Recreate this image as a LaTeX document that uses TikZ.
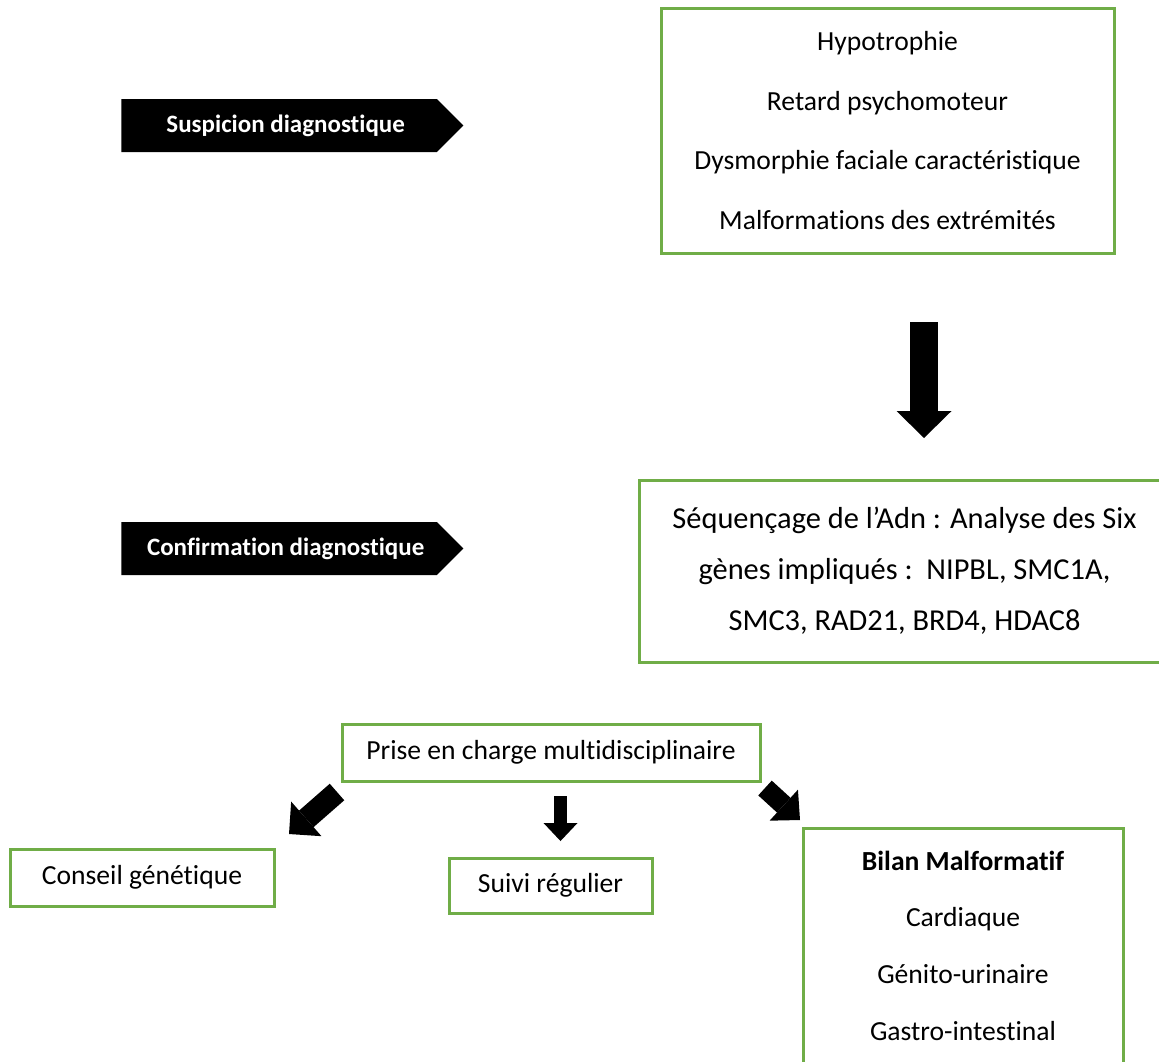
\documentclass[tikz,border=0pt]{standalone}
\usepackage{fontspec}
\setmainfont{Carlito}[Ligatures={NoCommon}]
\usetikzlibrary{arrows.meta,shapes.symbols}
\definecolor{boxgreen}{HTML}{70AD47}

\begin{document}
\begin{tikzpicture}[
  x=0.5pt, y=-0.5pt,
  font=\fontsize{13.8}{16}\selectfont,
  box/.style={draw=boxgreen, line width=1.5pt, align=center, inner sep=0pt},
  stage/.style={shape=signal, signal to=east, signal pointer angle=90, fill=black, text=white,
    font=\fontsize{12.5}{14}\selectfont\bfseries, anchor=west, minimum width=171pt, minimum height=26.5pt, inner sep=0pt},
  blockarr/.style n args={3}{line width=#1, -{Triangle[width=#2, length=#3, line width=0pt]}},
]
\useasboundingbox (0,0) rectangle (1159,1061);
\node[stage] (suspect) at (121,125.5) {\hspace*{6.5pt}Suspicion diagnostique};
\node[box, minimum width=226.5pt, minimum height=122.5pt, font=\fontsize{13.8}{29.75}\selectfont] (signs) at (887.5,130.5)
  {Hypotrophie\\Retard psychomoteur\\Dysmorphie faciale caractéristique\\Malformations des extrémités};
\node[stage] (confirm) at (121,548.5) {\hspace*{6.5pt}Confirmation diagnostique};
\node[box, minimum width=265.5pt, minimum height=91pt, font=\fontsize{15.2}{25.5}\selectfont] (dna) at (904.5,571)
  {Séquençage de l’Adn : Analyse des Six\\gènes impliqués :\ \ NIPBL, SMC1A,\\SMC3, RAD21, BRD4, HDAC8};
\node[box, minimum width=209pt, minimum height=28.5pt] (care) at (551,752.5) {Prise en charge multidisciplinaire};
\node[box, minimum width=132pt, minimum height=28.5pt] (advice) at (142,877.5) {Conseil génétique};
\node[box, minimum width=101.5pt, minimum height=27.5pt] (followup) at (550.5,885.5) {Suivi régulier};
\node[box, minimum width=160pt, minimum height=117.5pt, font=\fontsize{13.8}{28.35}\selectfont] (survey) at (963,945.5)
  {\textbf{Bilan Malformatif}\\Cardiaque\\Génito-urinaire\\Gastro-intestinal};
\coordinate (d1) at (924,322);
\coordinate (d2) at (924,438);
\coordinate (c1) at (560.5,796);
\coordinate (c2) at (560.5,841);
\coordinate (l1) at (337,792);
\coordinate (l2) at (289,834);
\coordinate (r1) at (765,788);
\coordinate (r2) at (800,820);
\draw[blockarr={14pt}{27.5pt}{13.5pt}] (d1) -- (d2);
\draw[blockarr={6.5pt}{17pt}{9pt}] (c1) -- (c2);
\draw[blockarr={11pt}{23pt}{11.5pt}] (l1) -- (l2);
\draw[blockarr={10pt}{21pt}{11pt}] (r1) -- (r2);
\end{tikzpicture}
\end{document}
